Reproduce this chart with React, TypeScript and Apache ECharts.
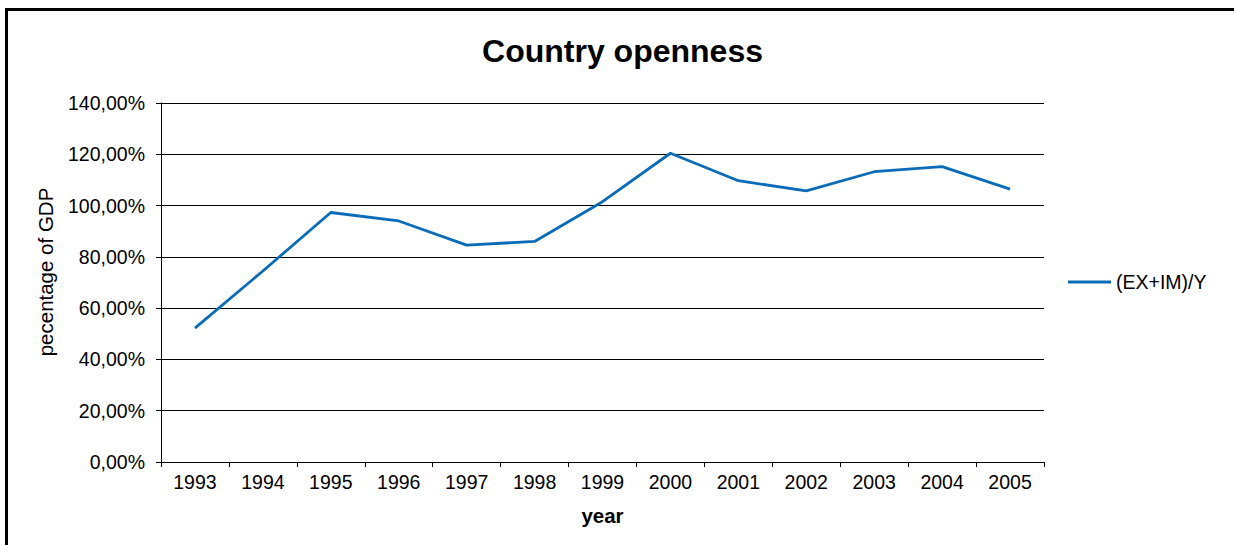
import React, { useEffect, useRef } from "react";
import * as echarts from "echarts";

const years = ["1993", "1994", "1995", "1996", "1997", "1998", "1999", "2000", "2001", "2002", "2003", "2004", "2005"];
const openness = [52.2, 74.5, 97.3, 94.0, 84.6, 86.0, 101.5, 120.4, 109.7, 105.7, 113.2, 115.2, 106.4];
const seriesName = "(EX+IM)/Y";
const titleText = "Country openness";
const yName = "pecentage of GDP";
const xName = "year";
const FONT = "'Liberation Sans', Arial, sans-serif";

export default function App() {
  const ref = useRef<HTMLDivElement>(null);
  useEffect(() => {
    if (!ref.current) return;
    const chart = echarts.init(ref.current, null, { renderer: "svg" });
    chart.setOption({
      animation: false,
      backgroundColor: "#ffffff",
      textStyle: { fontFamily: FONT },
      graphic: [
        { type: "line", shape: { x1: 5, y1: 9.5, x2: 1234, y2: 9.5 }, style: { stroke: "#000", lineWidth: 3 } },
        { type: "line", shape: { x1: 6.5, y1: 8, x2: 6.5, y2: 545 }, style: { stroke: "#000", lineWidth: 3 } },
        {
          type: "text",
          x: 622.5,
          y: 51,
          style: {
            text: titleText,
            font: `bold 32px ${FONT}`,
            fill: "#000",
            textAlign: "center",
            textVerticalAlign: "middle",
          },
        },
        {
          type: "text",
          x: 45,
          y: 272,
          rotation: Math.PI / 2,
          style: {
            text: yName,
            font: `20.5px ${FONT}`,
            fill: "#000",
            textAlign: "center",
            textVerticalAlign: "middle",
          },
        },
      ],
      legend: {
        orient: "vertical",
        left: 1068,
        top: 272,
        padding: 0,
        icon: "rect",
        itemWidth: 43,
        itemHeight: 3,
        itemGap: 5,
        textStyle: { fontSize: 19.5, color: "#000", fontFamily: FONT },
        data: [seriesName],
      },
      grid: { left: 161, right: 190, top: 103, bottom: 83, containLabel: false },
      xAxis: {
        type: "category",
        data: years,
        boundaryGap: true,
        name: xName,
        nameLocation: "middle",
        nameGap: 43,
        nameTextStyle: { fontSize: 20.5, fontWeight: "bold", color: "#000", fontFamily: FONT },
        axisLine: { lineStyle: { color: "#000", width: 1 } },
        axisTick: { show: true, length: 5, inside: false, lineStyle: { color: "#000" } },
        axisLabel: { fontSize: 19.5, color: "#000", margin: 10, fontFamily: FONT },
        splitLine: { show: false },
      },
      yAxis: {
        type: "value",
        min: 0,
        max: 140,
        interval: 20,
        axisLine: { show: true, lineStyle: { color: "#000", width: 1 } },
        axisTick: { show: true, length: 5, lineStyle: { color: "#000" } },
        axisLabel: {
          fontSize: 19.5,
          color: "#000",
          margin: 16,
          fontFamily: FONT,
          formatter: (v: number) => v.toFixed(2).replace(".", ",") + "%",
        },
        splitLine: { show: true, lineStyle: { color: "#000", width: 1 } },
      },
      series: [
        {
          name: seriesName,
          type: "line",
          data: openness,
          showSymbol: false,
          symbol: "none",
          lineStyle: { color: "#0a6cb8", width: 2.8 },
          itemStyle: { color: "#0a6cb8" },
        },
      ],
    });
    return () => chart.dispose();
  }, []);
  return (
    <div
      ref={ref}
      style={{ position: "fixed", left: 0, top: 0, width: 1234, height: 545, background: "#fff" }}
    />
  );
}
